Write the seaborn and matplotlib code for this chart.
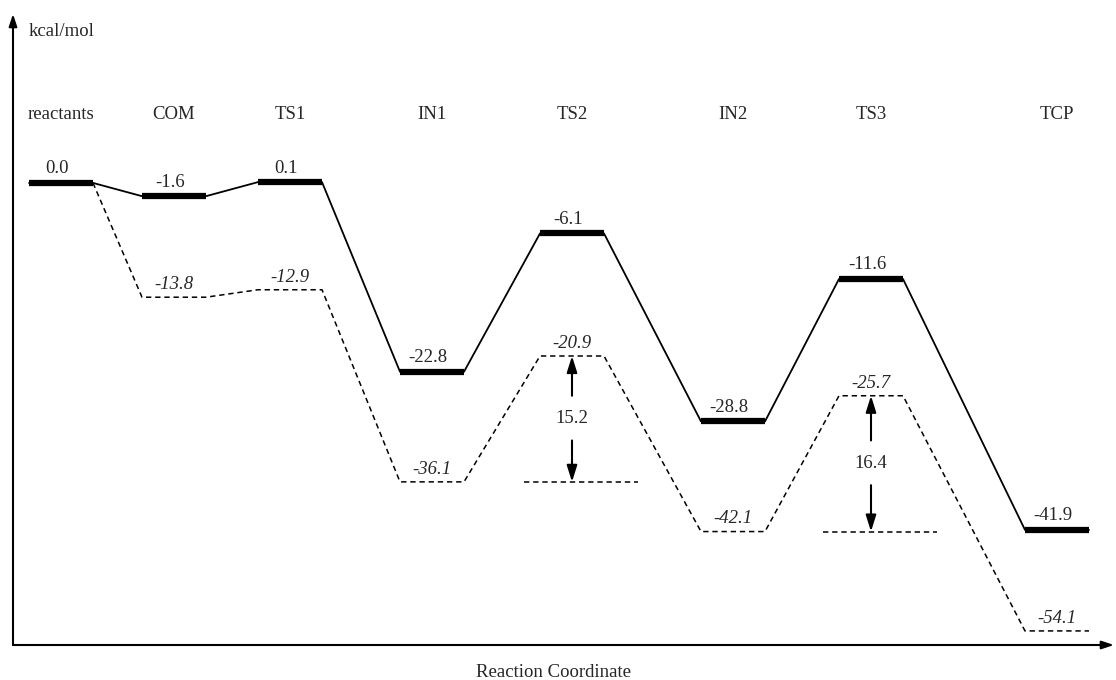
import matplotlib
matplotlib.use("Agg")
import matplotlib.pyplot as plt
import matplotlib.transforms as mtransforms
import seaborn as sns
import numpy as np
import pandas as pd

# Stationary points along the reaction path
stages = ["reactants", "COM", "TS1", "IN1", "TS2", "IN2", "TS3", "TCP"]
# upper (solid) profile, kcal/mol
energy_solid = [0.0, -1.6, 0.1, -22.8, -6.1, -28.8, -11.6, -41.9]
# lower (dashed) profile, kcal/mol (starts from reactants)
energy_dashed = [0.0, -13.8, -12.9, -36.1, -20.9, -42.1, -25.7, -54.1]
# barriers marked with arrows: (TS index, intermediate index, label)
barriers = [(4, 3, "15.2"), (6, 5, "16.4")]

# schematic reaction coordinate for each stage (drawing layout)
stage_x = [61, 174, 290, 432, 572, 733, 871, 1057]
half_w = 32

sns.set_style("white")
plt.rcParams["font.family"] = ["Liberation Serif", "DejaVu Serif"]

fig = plt.figure(figsize=(11.16, 6.8), dpi=100)
ax = fig.add_axes([13 / 1116, 35 / 680, 1101 / 1116, 631 / 680])
ax.set_xlim(13, 1114)
ax.set_ylim(-55.8, 20.4)

# build path tables (each level is a short horizontal segment)
rows_solid = []
for x, e in zip(stage_x, energy_solid):
    rows_solid += [(x - half_w, e), (x + half_w, e)]
df_solid = pd.DataFrame(rows_solid, columns=["x", "E"])

rows_dash = [(stage_x[0] + half_w, energy_dashed[0])]
for x, e in zip(stage_x[1:], energy_dashed[1:]):
    rows_dash += [(x - half_w, e), (x + half_w, e)]
df_dash = pd.DataFrame(rows_dash, columns=["x", "E"])

dash = (0, (3.5, 2.5))
sns.lineplot(data=df_solid, x="x", y="E", sort=False, estimator=None,
             color="black", lw=1.3, ax=ax)
sns.lineplot(data=df_dash, x="x", y="E", sort=False, estimator=None,
             color="black", lw=1.1, linestyle=dash, ax=ax)

# thick bars for the solid levels
ax.hlines(energy_solid, [x - half_w for x in stage_x], [x + half_w for x in stage_x],
          color="black", lw=4.5)

# value labels
for x, e in zip(stage_x, energy_solid):
    ax.annotate(f"{e:.1f}", (x - 4, e), textcoords="offset points", xytext=(0, 4),
                ha="center", va="bottom", fontsize=13.5)
for x, e in zip(stage_x[1:], energy_dashed[1:]):
    ax.annotate(f"{e:.1f}", (x, e), textcoords="offset points", xytext=(0, 3),
                ha="center", va="bottom", fontsize=13.5, style="italic")

# stage names
trans = mtransforms.blended_transform_factory(ax.transData, ax.transAxes)
for x, name in zip(stage_x, stages):
    ax.text(x, 0.84, name, transform=trans, ha="center", va="center", fontsize=13.5)

# barrier arrows with reference lines at intermediate level
arrow_kw = dict(arrowstyle="-|>,head_length=0.7,head_width=0.22", color="black",
                lw=1.5, shrinkA=0, shrinkB=0, mutation_scale=14)
for ts, im, lab in barriers:
    x = stage_x[ts]
    top = energy_dashed[ts]
    bot = energy_dashed[im]
    mid = (top + bot) / 2
    ax.plot([x - 48, x + 66], [bot, bot], color="black", lw=1.1, linestyle=dash)
    ax.text(x, mid, lab, ha="center", va="center", fontsize=13.5)
    ax.annotate("", xy=(x, top), xytext=(x, mid + 2.8), arrowprops=arrow_kw)
    ax.annotate("", xy=(x, bot), xytext=(x, mid - 2.6), arrowprops=arrow_kw)

# axes drawn as arrows
for s in ax.spines.values():
    s.set_visible(False)
ax.set_xticks([])
ax.set_yticks([])
ax.set_xlabel("")
ax.set_ylabel("")
axis_kw = dict(arrowstyle="-|>,head_length=0.6,head_width=0.2", color="black",
               lw=1.5, shrinkA=0, shrinkB=0, mutation_scale=12)
ax.annotate("", xy=(0, 1), xytext=(0, 0), xycoords="axes fraction", arrowprops=axis_kw)
ax.annotate("", xy=(1, 0), xytext=(0, 0), xycoords="axes fraction", arrowprops=axis_kw)
ax.text(0.014, 0.972, "kcal/mol", transform=ax.transAxes, ha="left", va="center",
        fontsize=13.5)
ax.text(554, -0.044, "Reaction Coordinate", transform=trans, ha="center", va="center",
        fontsize=13.5)

fig.savefig("out.png", dpi=100)
